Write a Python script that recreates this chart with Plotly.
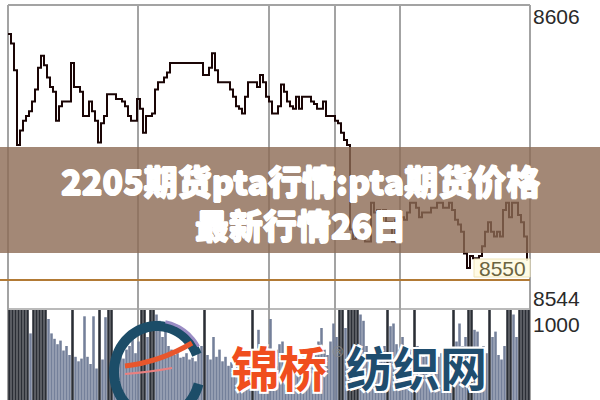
import numpy as np
import plotly.graph_objects as go

# ---- data ----
minutes = list(range(174))
price = [8601, 8599, 8593.5, 8578, 8581, 8583, 8584, 8585, 8587, 8589.5,
         8594, 8596.5, 8594.5, 8592, 8590, 8589, 8583, 8586, 8587, 8587,
         8587, 8595, 8590, 8590, 8589, 8584, 8584, 8587, 8585, 8583,
         8578.5, 8582.5, 8584, 8588.5, 8588.5, 8588.5, 8587.5, 8587.5, 8587, 8586,
         8584, 8583, 8583, 8587.5, 8585.5, 8580.5, 8584, 8584, 8584.5, 8589.5,
         8591, 8591, 8592, 8593, 8595, 8595, 8595, 8595, 8595, 8595,
         8595, 8595, 8595, 8595, 8595, 8592.5, 8592.5, 8594, 8597, 8593.5,
         8591, 8591, 8591, 8591, 8589.5, 8588, 8586, 8585.5, 8584.5, 8588,
         8591, 8591, 8591, 8590, 8592.5, 8591, 8588, 8587, 8584.5, 8584.5,
         8586, 8590.5, 8589, 8587, 8586, 8585.5, 8588, 8585.5, 8588, 8588,
         8588, 8587, 8586.5, 8585.5, 8585.5, 8587, 8584, 8584, 8584, 8583,
         8582.5, 8580.5, 8579, 8578, 8560.5, 8558.5, 8561, 8559.5, 8559.5, 8558,
         8558, 8566, 8564, 8564.5, 8562.5, 8564.5, 8562, 8562, 8558, 8562.5,
         8562.5, 8563, 8562.5, 8564, 8566, 8566, 8565, 8563, 8564, 8564,
         8564, 8565, 8565, 8566, 8566, 8565, 8565, 8566, 8564.5, 8562.5,
         8561.5, 8560, 8555.5, 8552.5, 8555, 8554.5, 8554.5, 8555, 8557, 8560,
         8562, 8560, 8559, 8560, 8559, 8564.5, 8566, 8563, 8566, 8566,
         8563.5, 8562, 8559, 8554]
volume = [1050, 1050, 1000, 1050, 1000, 1050, 1100, 740, 1000, 1050,
          1050, 1000, 1050, 900, 740, 680, 620, 660, 550, 600,
          500, 1050, 480, 430, 460, 930, 480, 400, 930, 350,
          1050, 450, 920, 1050, 1050, 500, 420, 520, 460, 560,
          600, 700, 520, 650, 1050, 1050, 700, 1050, 1050, 950,
          880, 700, 850, 600, 560, 500, 520, 470, 480, 520,
          450, 470, 430, 560, 600, 1050, 500, 450, 700, 480,
          560, 430, 480, 380, 420, 350, 400, 380, 450, 420,
          500, 1050, 500, 780, 450, 520, 480, 900, 500, 560,
          620, 650, 520, 600, 480, 420, 500, 450, 480, 420,
          500, 560, 600, 650, 800, 560, 500, 650, 850, 700,
          1050, 1000, 800, 1050, 1050, 1000, 1050, 950, 880, 600,
          520, 480, 450, 500, 560, 600, 1050, 820, 850, 620,
          560, 700, 500, 480, 560, 1050, 600, 520, 480, 560,
          450, 500, 420, 480, 520, 450, 500, 560, 1050, 650,
          850, 600, 700, 1050, 1050, 780, 760, 560, 600, 520,
          1050, 700, 760, 500, 450, 600, 1050, 1050, 950, 700,
          1050, 1050, 1000, 1050]
ref_price = 8550
price_labels = ["8606", "8544"]
vol_label = "1000"
title_lines = ["2205期货pta行情:pta期货价格", "最新行情26日"]

W, H = 600, 400


def px(x):
    return x / W


def py(y):
    return 1 - y / H


fig = go.Figure()

vol_colors = ["#2a2e35" if v >= 1000 else "#74809a" for v in volume]
fig.add_trace(go.Bar(x=minutes, y=volume, marker=dict(color=vol_colors, line=dict(width=0)),
                     xaxis="x2", yaxis="y2", showlegend=False, hoverinfo="skip"))
fig.add_trace(go.Scatter(x=minutes, y=price, mode="lines", line=dict(color="#1a0505", width=2, shape="hv"),
                         xaxis="x", yaxis="y", showlegend=False, hoverinfo="skip"))

shapes = []
grid = "#a3a3a3"
for gx in [8, 138, 269, 335, 400, 530]:
    shapes.append(dict(type="line", xref="paper", yref="paper", x0=px(gx), x1=px(gx), y0=py(5), y1=py(400),
                       line=dict(color=grid, width=2), layer="below"))
shapes.append(dict(type="line", xref="paper", yref="paper", x0=px(8), x1=px(530), y0=py(5), y1=py(5),
                   line=dict(color=grid, width=2), layer="below"))
shapes.append(dict(type="line", xref="paper", yref="paper", x0=px(8), x1=px(530), y0=py(309), y1=py(309),
                   line=dict(color=grid, width=1.5), layer="below"))
shapes.append(dict(type="line", xref="paper", yref="y", x0=0, x1=px(530), y0=ref_price, y1=ref_price,
                   line=dict(color="#b27a35", width=2), layer="above"))
shapes.append(dict(type="rect", xref="paper", yref="paper", x0=px(474), x1=px(530), y0=py(277), y1=py(259),
                   fillcolor="rgba(255,250,225,0.85)", line=dict(color="#efe4b8", width=1), layer="above"))

# banner
shapes.append(dict(type="rect", xref="paper", yref="paper", x0=0, x1=1, y0=py(253), y1=py(147),
                   fillcolor="rgba(140,106,84,0.80)", line=dict(width=0), layer="above"))

# logo ring (open "C")
ang = np.radians(np.linspace(22, 345, 60))
cx, cy, rx, ry = 157, 372, 43, 46
pts = [(px(cx + rx * np.cos(a)), py(cy - ry * np.sin(a))) for a in ang]
path = "M " + " L ".join(f"{x:.4f},{y:.4f}" for x, y in pts)
shapes.append(dict(type="path", xref="paper", yref="paper", path=path,
                   line=dict(color="#1c4d68", width=10), layer="above"))
ang2 = np.radians(np.linspace(30, 80, 15))
pts2 = [(px(cx + (rx + 5) * np.cos(a)), py(cy - (ry + 5) * np.sin(a))) for a in ang2]
shapes.append(dict(type="path", xref="paper", yref="paper",
                   path="M " + " L ".join(f"{x:.4f},{y:.4f}" for x, y in pts2),
                   line=dict(color="#9a8cc4", width=3), layer="above"))
shapes.append(dict(type="path", xref="paper", yref="paper",
                   path=f"M {px(125):.4f},{py(366):.4f} Q {px(160):.4f},{py(362):.4f} {px(192):.4f},{py(343):.4f}",
                   line=dict(color="#e8562c", width=5), layer="above"))
shapes.append(dict(type="path", xref="paper", yref="paper",
                   path=f"M {px(125):.4f},{py(374):.4f} Q {px(150):.4f},{py(372):.4f} {px(172):.4f},{py(368):.4f}",
                   line=dict(color="#e98080", width=2), layer="above"))

ann = []
lab_font = dict(family="Liberation Sans, Arial", size=21, color="#2a2a2a")
ann.append(dict(x=px(531), y=py(16), xref="paper", yref="paper", text=price_labels[0], showarrow=False,
                xanchor="left", yanchor="middle", font=lab_font))
ann.append(dict(x=px(531), y=py(298), xref="paper", yref="paper", text=price_labels[1], showarrow=False,
                xanchor="left", yanchor="middle", font=lab_font))
ann.append(dict(x=px(531), y=py(324), xref="paper", yref="paper", text=vol_label, showarrow=False,
                xanchor="left", yanchor="middle", font=lab_font))
ann.append(dict(x=px(528), y=py(268), xref="paper", yref="paper", text=str(ref_price), showarrow=False,
                xanchor="right", yanchor="middle", font=dict(family="Liberation Sans, Arial", size=21, color="#6b6440")))

thick = "0.7px 0 0 #fff, -0.7px 0 0 #fff, 0 0.7px 0 #fff, 0 -0.7px 0 #fff"
banner_font = dict(family="Noto Sans CJK SC", size=34, color="white", weight=900, shadow=thick)
ann.append(dict(x=0.5, y=py(202), xref="paper", yref="paper", text="<br>".join(title_lines),
                showarrow=False, xanchor="center", yanchor="middle", align="center", font=banner_font))

halo = "2px 2px 0 #fff, -2px -2px 0 #fff, 2px -2px 0 #fff, -2px 2px 0 #fff"
ann.append(dict(x=px(279), y=py(366), xref="paper", yref="paper", text="锦桥", showarrow=False,
                xanchor="center", yanchor="middle",
                font=dict(family="Noto Sans CJK SC", size=48, color="#f04e1e", weight=700, shadow=halo)))
ann.append(dict(x=px(338), y=py(352), xref="paper", yref="paper", text="®", showarrow=False,
                xanchor="center", yanchor="middle", font=dict(family="DejaVu Sans", size=14, color="#8a8a8a")))
ann.append(dict(x=px(416), y=py(365), xref="paper", yref="paper", text="纺织网", showarrow=False,
                xanchor="center", yanchor="middle",
                font=dict(family="Noto Sans CJK SC", size=47, color="#1f4d6e", weight=700, shadow=halo)))

fig.update_layout(
    width=W, height=H, margin=dict(l=0, r=0, t=0, b=0),
    paper_bgcolor="white", plot_bgcolor="rgba(0,0,0,0)",
    xaxis=dict(domain=[px(8), px(530)], range=[0, 174], visible=False, anchor="y"),
    yaxis=dict(domain=[py(309), py(5)], range=[8544, 8607], visible=False, anchor="x"),
    xaxis2=dict(domain=[px(8), px(530)], range=[-0.5, 173.5], visible=False, anchor="y2"),
    yaxis2=dict(domain=[0, py(310)], range=[0, 1000], visible=False, anchor="x2"),
    bargap=0.15, shapes=shapes, annotations=ann,
)

fig.write_html("out.html", config={"displayModeBar": False},
               post_script="document.body.style.margin='0';document.body.style.overflow='hidden';")
